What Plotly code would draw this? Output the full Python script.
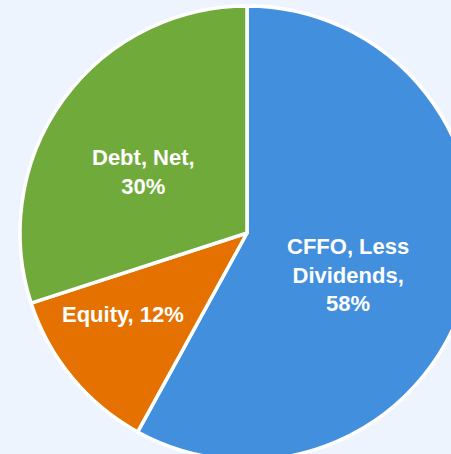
import plotly.graph_objects as go

labels = ["CFFO, Less Dividends", "Equity", "Debt, Net"]
label_text = ["CFFO, Less<br>Dividends,<br>", "Equity, ", "Debt, Net,<br>"]
values = [58, 12, 30]
colors = ["#428FDD", "#E57200", "#70AA3A"]

# figure geometry (pie extends beyond the visible window like the reference)
W, H = 500, 480
L, R, T, B = 20, 26, 6, 20

fig = go.Figure(go.Pie(
    labels=labels, values=values, sort=False, direction="clockwise", rotation=0,
    marker=dict(colors=colors, line=dict(color="white", width=3.5)),
    textinfo="none", hoverinfo="label+percent", showlegend=False,
))

# label anchor positions in pixels (center of the text block)
label_px = [(348, 275), (123, 314), (143, 172)]
for lt, v, (px, py) in zip(label_text, values, label_px):
    fig.add_annotation(
        x=(px - L) / (W - L - R), y=1 - (py - T) / (H - T - B),
        xref="paper", yref="paper", text=f"{lt}{v}%", showarrow=False,
        font=dict(family="Liberation Sans, Arial", size=22, color="white", weight="bold"),
        align="center", xanchor="center", yanchor="middle",
    )

fig.update_layout(
    width=W, height=H, margin=dict(l=L, r=R, t=T, b=B),
    paper_bgcolor="#EEF4FE", plot_bgcolor="#EEF4FE",
)

fig.write_html(
    "out.html",
    config={"displayModeBar": False},
    post_script="document.body.style.margin='0';document.body.style.overflow='hidden';document.documentElement.style.background='#EEF4FE';",
)
